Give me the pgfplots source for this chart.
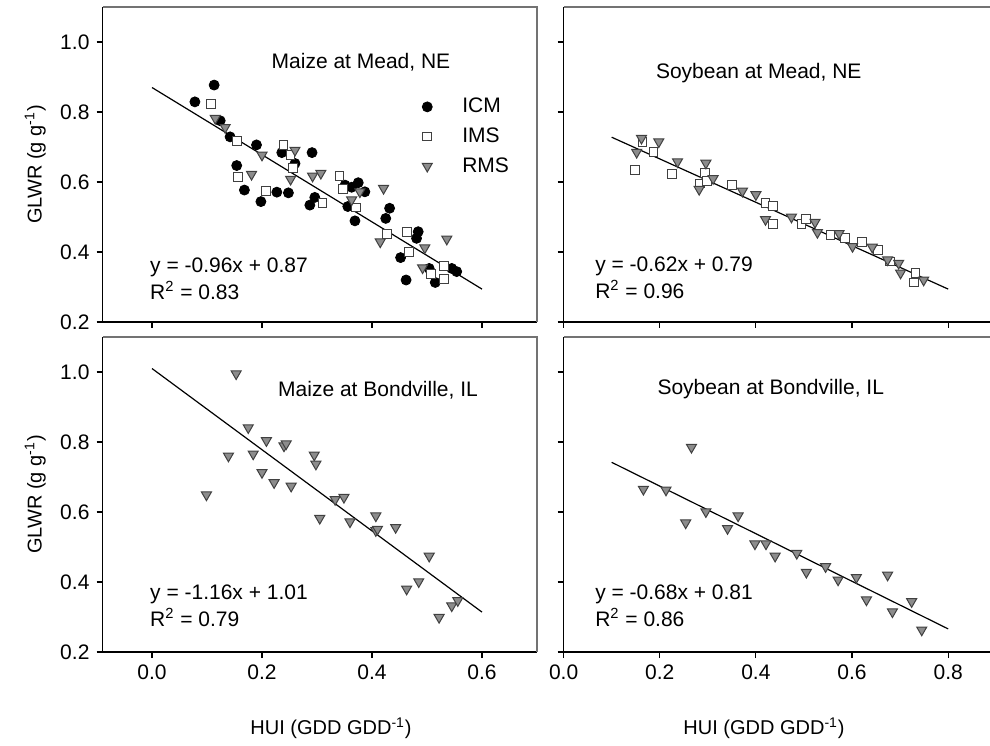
\documentclass[border=0pt]{standalone}
\usepackage{fontspec}
\setmainfont{Liberation Sans}
\usepackage{pgfplots}
\pgfplotsset{compat=1.18}

\definecolor{rmsfill}{gray}{0.55}
\definecolor{edge}{gray}{0.25}
\definecolor{framegray}{gray}{0.45}

\tikzset{
  txt/.style={anchor=west, inner sep=0pt, font=\fontsize{10.5}{12.5}\selectfont},
  ttl/.style={anchor=center, inner sep=0pt, font=\fontsize{10.5}{12.5}\selectfont},
}

\pgfplotsset{
  panel/.style={
    scale only axis, height=157.5pt,
    ymin=0.2, ymax=1.1, ytick={0.2,0.4,0.6,0.8,1.0},
    axis lines*=left, axis line style={-, black, line width=0.7pt},
    tick align=outside, major tick length=3pt,
    tick style={black, line width=0.6pt},
    tick label style={font=\fontsize{10.5}{12.5}\selectfont},
    /pgf/number format/assume math mode=true,
    xticklabel style={/pgf/number format/fixed, /pgf/number format/fixed zerofill, /pgf/number format/precision=1},
    yticklabel style={/pgf/number format/fixed, /pgf/number format/fixed zerofill, /pgf/number format/precision=1},
    label style={font=\fontsize{10}{12}\selectfont},
  },
  leftpanel/.style={panel, width=217.25pt, xmin=-0.09, xmax=0.7, xtick={0,0.2,0.4,0.6},
    ylabel={GLWR (g g\textsuperscript{-1})},
    ylabel style={at={(axis description cs:-0.155,0.5)}, anchor=center},
    after end axis/.code={\draw[framegray, line width=0.6pt] (rel axis cs:0,1) -- (rel axis cs:1,1) -- (rel axis cs:1,0);}},
  % the right-hand panels run on to the edge of the figure, with a top border only
  rightpanel/.style={panel, width=213.2pt, xmin=0, xmax=0.887, xtick={0,0.2,0.4,0.6,0.8}, yticklabels={},
    after end axis/.code={\draw[framegray, line width=0.6pt] (rel axis cs:0,1) -- (rel axis cs:1,1);}},
  icm/.style={only marks, mark=*, mark size=2.5pt, mark options={fill=black, draw=black}},
  ims/.style={only marks, mark=square*, mark size=2.2pt, mark options={fill=white, draw=edge, line width=0.5pt}},
  rms/.style={only marks, mark=triangle*, mark size=2.9pt, mark options={rotate=180, fill=rmsfill, draw=edge, line width=0.5pt}},
  fitline/.style={no marks, black, line width=0.6pt, forget plot},
}

\begin{document}
\begin{tikzpicture}
\path[use as bounding box] (0,0) rectangle (495pt,372.5pt);

% ---------- Maize at Mead ----------
\begin{axis}[leftpanel, at={(51.25pt,211.5pt)}, anchor=south west, xticklabels={},
  legend style={at={(rel axis cs:0.735,0.725)}, anchor=north west, draw=none, fill=none,
    font=\fontsize{10.5}{12.5}\selectfont, row sep=2pt, inner sep=0pt,
    /tikz/every odd column/.append style={column sep=13pt}},
  legend cell align=left]
\addplot[icm] table {
0.078 0.829
0.113 0.877
0.124 0.775
0.142 0.729
0.154 0.647
0.168 0.577
0.190 0.706
0.198 0.544
0.227 0.571
0.236 0.684
0.248 0.569
0.260 0.653
0.287 0.534
0.291 0.684
0.296 0.556
0.351 0.591
0.356 0.530
0.363 0.585
0.369 0.489
0.375 0.598
0.387 0.572
0.425 0.496
0.432 0.525
0.452 0.384
0.462 0.320
0.481 0.439
0.484 0.458
0.504 0.353
0.515 0.313
0.545 0.353
0.554 0.344
};
\addplot[ims] table {
0.107 0.823
0.154 0.717
0.157 0.615
0.207 0.575
0.239 0.706
0.252 0.677
0.257 0.640
0.310 0.539
0.341 0.617
0.348 0.579
0.371 0.527
0.428 0.451
0.463 0.458
0.467 0.401
0.507 0.337
0.531 0.361
0.531 0.323
};
\addplot[rms] table {
0.115 0.782
0.133 0.756
0.181 0.622
0.200 0.677
0.252 0.608
0.260 0.691
0.292 0.617
0.307 0.625
0.363 0.549
0.378 0.572
0.415 0.429
0.421 0.582
0.492 0.355
0.496 0.412
0.536 0.437
};
\legend{ICM, IMS, RMS}
\addplot[fitline] coordinates {(0,0.87) (0.6,0.294)};
\node[ttl] at (axis cs:0.38,0.943) {Maize at Mead, NE};
\node[txt] at (axis cs:-0.004,0.357) {y = -0.96x + 0.87};
\node[txt] at (axis cs:-0.004,0.291) {R\textsuperscript{2} = 0.83};
\end{axis}

% ---------- Soybean at Mead ----------
\begin{axis}[rightpanel, at={(281.8pt,211.5pt)}, anchor=south west, xticklabels={}]
\addplot[ims] table {
0.148 0.634
0.164 0.715
0.187 0.685
0.226 0.622
0.284 0.596
0.294 0.625
0.298 0.603
0.350 0.591
0.420 0.539
0.435 0.531
0.435 0.479
0.495 0.479
0.504 0.495
0.555 0.448
0.585 0.440
0.620 0.428
0.654 0.405
0.679 0.373
0.729 0.313
0.732 0.341
};
\addplot[rms] table {
0.152 0.685
0.162 0.725
0.198 0.715
0.237 0.658
0.282 0.579
0.296 0.654
0.311 0.610
0.372 0.574
0.400 0.564
0.420 0.493
0.474 0.500
0.523 0.485
0.528 0.456
0.573 0.453
0.601 0.416
0.642 0.414
0.674 0.378
0.697 0.368
0.701 0.340
0.749 0.320
};
\addplot[fitline] coordinates {(0.1,0.728) (0.8,0.294)};
\node[ttl] at (axis cs:0.406,0.91) {Soybean at Mead, NE};
\node[txt] at (axis cs:0.065,0.358) {y = -0.62x + 0.79};
\node[txt] at (axis cs:0.065,0.292) {R\textsuperscript{2} = 0.96};
\end{axis}

% ---------- Maize at Bondville ----------
\begin{axis}[leftpanel, at={(51.25pt,46.5pt)}, anchor=south west,
  xlabel={HUI (GDD GDD\textsuperscript{-1})},
  xlabel style={at={(axis description cs:0.526,-0.241)}, anchor=center}]
\addplot[rms] table {
0.099 0.649
0.139 0.760
0.153 0.995
0.175 0.841
0.184 0.766
0.200 0.713
0.208 0.804
0.222 0.684
0.240 0.789
0.244 0.795
0.253 0.674
0.295 0.763
0.298 0.737
0.305 0.582
0.333 0.636
0.349 0.642
0.360 0.572
0.407 0.589
0.407 0.547
0.410 0.551
0.443 0.556
0.463 0.380
0.485 0.401
0.504 0.474
0.522 0.299
0.545 0.332
0.556 0.347
};
\addplot[fitline] coordinates {(0,1.01) (0.6,0.314)};
\node[ttl] at (axis cs:0.411,0.949) {Maize at Bondville, IL};
\node[txt] at (axis cs:-0.004,0.366) {y = -1.16x + 1.01};
\node[txt] at (axis cs:-0.004,0.30) {R\textsuperscript{2} = 0.79};
\end{axis}

% ---------- Soybean at Bondville ----------
\begin{axis}[rightpanel, at={(281.8pt,46.5pt)}, anchor=south west,
  xlabel={HUI (GDD GDD\textsuperscript{-1})},
  xlabel style={at={(axis description cs:0.47,-0.241)}, anchor=center}]
\addplot[rms] table {
0.166 0.665
0.213 0.663
0.254 0.569
0.266 0.785
0.296 0.601
0.341 0.553
0.363 0.589
0.398 0.509
0.421 0.509
0.440 0.474
0.485 0.482
0.505 0.428
0.545 0.444
0.571 0.406
0.609 0.413
0.630 0.349
0.674 0.420
0.684 0.315
0.724 0.344
0.745 0.263
};
\addplot[fitline] coordinates {(0.1,0.742) (0.8,0.266)};
\node[ttl] at (axis cs:0.431,0.95) {Soybean at Bondville, IL};
\node[txt] at (axis cs:0.065,0.366) {y = -0.68x + 0.81};
\node[txt] at (axis cs:0.065,0.30) {R\textsuperscript{2} = 0.86};
\end{axis}
\end{tikzpicture}
\end{document}
